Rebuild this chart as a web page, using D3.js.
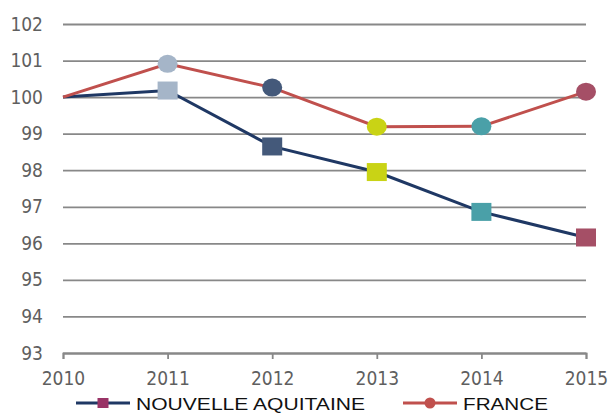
<!DOCTYPE html>
<html>
<head>
<meta charset="utf-8">
<script src="https://cdn.jsdelivr.net/npm/d3@7"></script>
<style>
	body { margin: 0; background: #fff; }
	svg text { font-family: "DejaVu Sans Condensed", "DejaVu Sans", sans-serif; font-stretch: condensed; }
	svg text.legend { font-family: "Liberation Sans", Arial, sans-serif; font-stretch: normal; }
</style>
</head>
<body>
<svg id="chart" width="614" height="414"></svg>
<script>
var years = [2010, 2011, 2012, 2013, 2014, 2015];
var nouvelleAquitaine = [100, 100.18, 98.65, 97.95, 96.86, 96.16];
var france = [100, 100.91, 100.26, 99.19, 99.2, 100.15];
var yTicks = [93, 94, 95, 96, 97, 98, 99, 100, 101, 102];
var pointColors = [null, "#a5b5c8", "#44597a", "#c9d315", "#4aa0a8", "#a54f66"];

function drawChart() {
	var svg = d3.select("#chart");
	var left = 63, right = 586, top = 24, bottom = 353;

	var x = d3.scaleLinear().domain([2010, 2015]).range([left, right]);
	var y = d3.scaleLinear().domain([93, 102]).range([bottom, top]);

	// gridlines + y labels
	var gy = svg.append("g")
		.attr("transform", "translate(" + left + ",0)")
		.call(d3.axisLeft(y).tickValues(yTicks).tickSize(-(right - left)).tickPadding(20));
	gy.select(".domain").remove();
	gy.selectAll(".tick line").attr("stroke", "#888").attr("stroke-width", 1.8);
	gy.selectAll(".tick text").attr("fill", "#5f5f5f").style("font-size", "19px");

	var gx = svg.append("g")
		.attr("transform", "translate(0," + bottom + ")")
		.call(d3.axisBottom(x).tickValues(years).tickFormat(d3.format("d")).tickSize(6).tickPadding(13));
	gx.select(".domain").attr("stroke", "#888").attr("stroke-width", 1.8);
	gx.selectAll(".tick line").attr("stroke", "#888").attr("stroke-width", 1.8);
	gx.selectAll(".tick text").attr("fill", "#5f5f5f").style("font-size", "19px");

	var line = d3.line()
		.x(function (d, i) { return x(years[i]); })
		.y(function (d) { return y(d); });

	svg.append("path").datum(nouvelleAquitaine)
		.attr("d", line).attr("fill", "none")
		.attr("stroke", "#1f3864").attr("stroke-width", 3);
	svg.append("path").datum(france)
		.attr("d", line).attr("fill", "none")
		.attr("stroke", "#c0504d").attr("stroke-width", 3);

	var idx = d3.range(1, years.length);

	svg.selectAll("rect.na").data(idx).enter().append("rect")
		.attr("class", "na")
		.attr("x", function (i) { return x(years[i]) - 10; })
		.attr("y", function (i) { return y(nouvelleAquitaine[i]) - 9; })
		.attr("width", 20).attr("height", 18)
		.attr("fill", function (i) { return pointColors[i]; });

	svg.selectAll("ellipse.fr").data(idx).enter().append("ellipse")
		.attr("class", "fr")
		.attr("cx", function (i) { return x(years[i]); })
		.attr("cy", function (i) { return y(france[i]); })
		.attr("rx", 10).attr("ry", 9)
		.attr("fill", function (i) { return pointColors[i]; });

	// legend (text is stretched wide like the original)
	var lg = svg.append("g");
	lg.append("line").attr("x1", 76).attr("x2", 130).attr("y1", 403).attr("y2", 403)
		.attr("stroke", "#1f3864").attr("stroke-width", 3);
	lg.append("rect").attr("x", 97.5).attr("y", 398).attr("width", 11).attr("height", 10)
		.attr("fill", "#993366");
	lg.append("text").attr("class", "legend").attr("x", 136).attr("y", 410)
		.attr("textLength", 229).attr("lengthAdjust", "spacingAndGlyphs")
		.text("NOUVELLE AQUITAINE")
		.attr("fill", "#111").style("font-size", "17px");

	lg.append("line").attr("x1", 403).attr("x2", 457).attr("y1", 403).attr("y2", 403)
		.attr("stroke", "#c0504d").attr("stroke-width", 3);
	lg.append("circle").attr("cx", 430).attr("cy", 403).attr("r", 5.5)
		.attr("fill", "#c0504d");
	lg.append("text").attr("class", "legend").attr("x", 463).attr("y", 410)
		.attr("textLength", 85).attr("lengthAdjust", "spacingAndGlyphs")
		.text("FRANCE")
		.attr("fill", "#111").style("font-size", "17px");
}

drawChart();
</script>
</body>
</html>
